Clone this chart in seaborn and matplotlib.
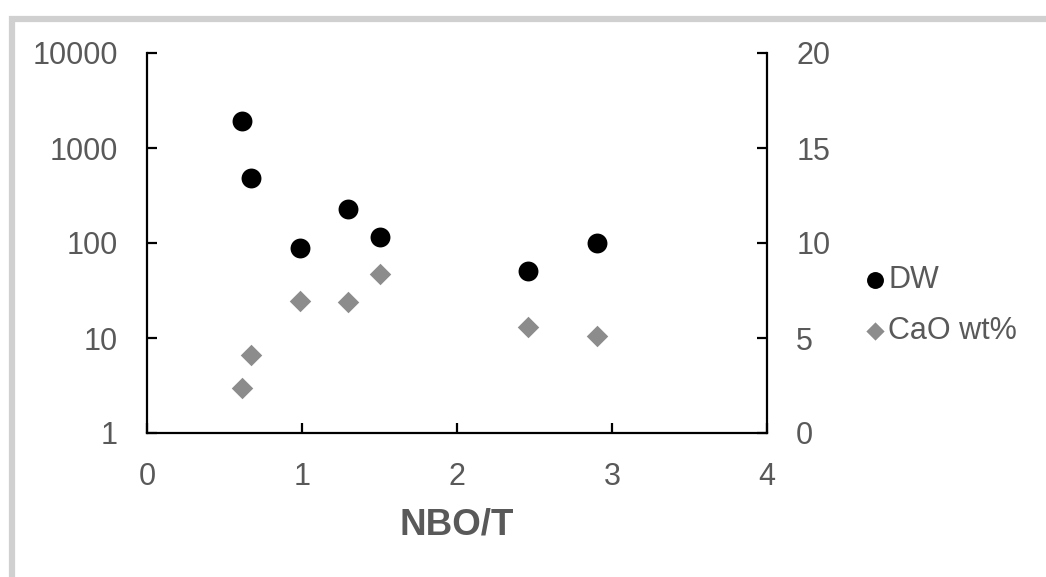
import matplotlib
matplotlib.use("Agg")
import matplotlib.pyplot as plt
from matplotlib.patches import Rectangle
import pandas as pd
import seaborn as sns

sns.set_theme(style="ticks")
plt.rcParams['font.family'] = ['Liberation Sans', 'DejaVu Sans']

# values
nbo_t = [0.615, 0.669, 0.987, 1.295, 1.501, 2.456, 2.901]
dw = [1920, 483, 88.5, 228, 116, 50.4, 99]
cao = [2.38, 4.09, 6.95, 6.88, 8.39, 5.6, 5.1]
left_ticks = [1, 10, 100, 1000, 10000]
right_ticks = [0, 5, 10, 15, 20]
x_ticks = [0, 1, 2, 3, 4]

df = pd.DataFrame({'NBO/T': nbo_t, 'DW': dw, 'CaO wt%': cao})

grey_txt = '#595959'
fs = 22

fig = plt.figure(figsize=(10.46, 5.77), dpi=100)
fig.patches.append(Rectangle((12 / 1046, -0.1), 1.2, 1 - 19 / 577 + 0.1,
                             transform=fig.transFigure, fill=False,
                             edgecolor='#d0d0d0', linewidth=4.5, zorder=0))
ax = fig.add_axes([147 / 1046, 1 - 433 / 577, 620 / 1046, 380 / 577])
ax2 = ax.twinx()

sns.scatterplot(data=df, x='NBO/T', y='DW', ax=ax, color='black', marker='o',
                s=205, linewidth=0, label='DW', legend=False, zorder=3)
sns.scatterplot(data=df, x='NBO/T', y='CaO wt%', ax=ax2, color='#8c8c8c', marker='D',
                s=120, linewidth=0, label='CaO wt%', legend=False, zorder=3)

ax.set_yscale('log')
ax.set_ylim(1, 10000)
ax.set_yticks(left_ticks)
ax.set_yticklabels([str(t) for t in left_ticks])
ax.minorticks_off()
ax.set_xlim(0, 4)
ax.set_xticks(x_ticks)
ax.set_xticklabels([str(t) for t in x_ticks])
ax2.set_ylim(0, 20)
ax2.set_yticks(right_ticks)
ax2.set_yticklabels([str(t) for t in right_ticks])

ax.set_ylabel('')
ax2.set_ylabel('')
ax.set_xlabel('NBO/T', fontsize=26.5, fontweight='bold', color=grey_txt, labelpad=11)

for a in (ax, ax2):
    a.spines['top'].set_visible(False)
    for side in ('left', 'right', 'bottom'):
        a.spines[side].set_color('black')
        a.spines[side].set_linewidth(1.6)
    a.tick_params(direction='in', length=7, width=1.6, color='black',
                  labelsize=fs, labelcolor=grey_txt, pad=21)
ax.spines['right'].set_visible(False)
ax2.spines['left'].set_visible(False)
ax2.spines['bottom'].set_visible(False)

h1, l1 = ax.get_legend_handles_labels()
h2, l2 = ax2.get_legend_handles_labels()
fig.legend(h1 + h2, l1 + l2, loc='upper left', bbox_to_anchor=(847 / 1046, 1 - 250 / 577),
           frameon=False, fontsize=fs, labelcolor=grey_txt, markerscale=0.85,
           handletextpad=0.05, handlelength=0.8, labelspacing=0.67, borderpad=0)

fig.savefig('out.png', dpi=100)
